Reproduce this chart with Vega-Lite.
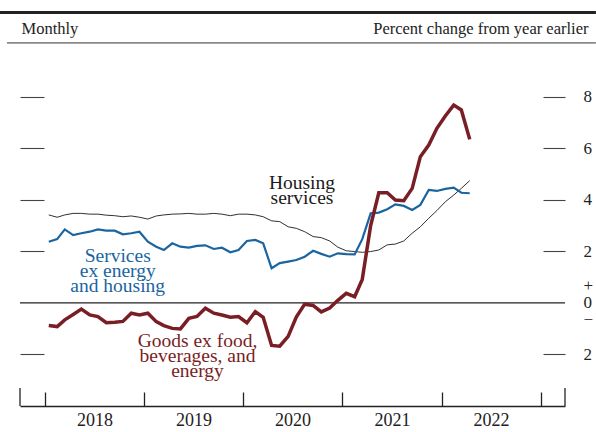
{
  "$schema": "https://vega.github.io/schema/vega-lite/v6.json",
  "width": 545,
  "height": 361,
  "autosize": "none",
  "padding": {"left": 20, "top": 45, "right": 31, "bottom": 26},
  "background": "white",
  "config": {
    "view": {"stroke": null},
    "font": "Liberation Serif",
    "axis": {"grid": false},
    "axisX": {"tickSize": -14, "tickColor": "#222222", "tickWidth": 1.3, "domain": true, "domainColor": "#222222", "domainWidth": 1.3, "labelOffset": 49.5, "labelFlush": false, "labelOverlap": false, "labelFont": "Liberation Serif", "labelFontSize": 18, "labelColor": "#222222", "labelPadding": 19}
  },
  "data": {"values": [{}]},
  "datasets": {
    "goods": [
      {"date": "2018-01-15", "value": -0.88}, {"date": "2018-02-15", "value": -0.92}, {"date": "2018-03-15", "value": -0.66}, {"date": "2018-04-15", "value": -0.45}, {"date": "2018-05-15", "value": -0.24}, {"date": "2018-06-15", "value": -0.47}, {"date": "2018-07-15", "value": -0.53}, {"date": "2018-08-15", "value": -0.77}, {"date": "2018-09-15", "value": -0.75}, {"date": "2018-10-15", "value": -0.72}, {"date": "2018-11-15", "value": -0.40}, {"date": "2018-12-15", "value": -0.47},
      {"date": "2019-01-15", "value": -0.40}, {"date": "2019-02-15", "value": -0.73}, {"date": "2019-03-15", "value": -0.88}, {"date": "2019-04-15", "value": -0.99}, {"date": "2019-05-15", "value": -1.01}, {"date": "2019-06-15", "value": -0.60}, {"date": "2019-07-15", "value": -0.53}, {"date": "2019-08-15", "value": -0.21}, {"date": "2019-09-15", "value": -0.40}, {"date": "2019-10-15", "value": -0.47}, {"date": "2019-11-15", "value": -0.56}, {"date": "2019-12-15", "value": -0.53},
      {"date": "2020-01-15", "value": -0.77}, {"date": "2020-02-15", "value": -0.34}, {"date": "2020-03-15", "value": -0.56}, {"date": "2020-04-15", "value": -1.65}, {"date": "2020-05-15", "value": -1.68}, {"date": "2020-06-15", "value": -1.30}, {"date": "2020-07-15", "value": -0.55}, {"date": "2020-08-15", "value": -0.05}, {"date": "2020-09-15", "value": -0.10}, {"date": "2020-10-15", "value": -0.35}, {"date": "2020-11-15", "value": -0.20}, {"date": "2020-12-15", "value": 0.10},
      {"date": "2021-01-15", "value": 0.37}, {"date": "2021-02-15", "value": 0.24}, {"date": "2021-03-15", "value": 0.91}, {"date": "2021-04-15", "value": 3.0}, {"date": "2021-05-15", "value": 4.27}, {"date": "2021-06-15", "value": 4.27}, {"date": "2021-07-15", "value": 3.99}, {"date": "2021-08-15", "value": 3.96}, {"date": "2021-09-15", "value": 4.44}, {"date": "2021-10-15", "value": 5.67}, {"date": "2021-11-15", "value": 6.12}, {"date": "2021-12-15", "value": 6.77},
      {"date": "2022-01-15", "value": 7.25}, {"date": "2022-02-15", "value": 7.67}, {"date": "2022-03-15", "value": 7.48}, {"date": "2022-04-15", "value": 6.34}
    ],
    "services": [
      {"date": "2018-01-15", "value": 2.37}, {"date": "2018-02-15", "value": 2.47}, {"date": "2018-03-15", "value": 2.85}, {"date": "2018-04-15", "value": 2.63}, {"date": "2018-05-15", "value": 2.70}, {"date": "2018-06-15", "value": 2.76}, {"date": "2018-07-15", "value": 2.85}, {"date": "2018-08-15", "value": 2.80}, {"date": "2018-09-15", "value": 2.80}, {"date": "2018-10-15", "value": 2.66}, {"date": "2018-11-15", "value": 2.70}, {"date": "2018-12-15", "value": 2.76},
      {"date": "2019-01-15", "value": 2.37}, {"date": "2019-02-15", "value": 2.18}, {"date": "2019-03-15", "value": 2.05}, {"date": "2019-04-15", "value": 2.31}, {"date": "2019-05-15", "value": 2.18}, {"date": "2019-06-15", "value": 2.14}, {"date": "2019-07-15", "value": 2.21}, {"date": "2019-08-15", "value": 2.23}, {"date": "2019-09-15", "value": 2.09}, {"date": "2019-10-15", "value": 2.14}, {"date": "2019-11-15", "value": 1.96}, {"date": "2019-12-15", "value": 2.05},
      {"date": "2020-01-15", "value": 2.40}, {"date": "2020-02-15", "value": 2.44}, {"date": "2020-03-15", "value": 2.31}, {"date": "2020-04-15", "value": 1.34}, {"date": "2020-05-15", "value": 1.54}, {"date": "2020-06-15", "value": 1.60}, {"date": "2020-07-15", "value": 1.66}, {"date": "2020-08-15", "value": 1.79}, {"date": "2020-09-15", "value": 2.02}, {"date": "2020-10-15", "value": 1.90}, {"date": "2020-11-15", "value": 1.79}, {"date": "2020-12-15", "value": 1.92},
      {"date": "2021-01-15", "value": 1.89}, {"date": "2021-02-15", "value": 1.88}, {"date": "2021-03-15", "value": 2.47}, {"date": "2021-04-15", "value": 3.47}, {"date": "2021-05-15", "value": 3.50}, {"date": "2021-06-15", "value": 3.63}, {"date": "2021-07-15", "value": 3.82}, {"date": "2021-08-15", "value": 3.76}, {"date": "2021-09-15", "value": 3.60}, {"date": "2021-10-15", "value": 3.80}, {"date": "2021-11-15", "value": 4.38}, {"date": "2021-12-15", "value": 4.34},
      {"date": "2022-01-15", "value": 4.42}, {"date": "2022-02-15", "value": 4.47}, {"date": "2022-03-15", "value": 4.27}, {"date": "2022-04-15", "value": 4.25}
    ],
    "housing": [
      {"date": "2018-01-15", "value": 3.41}, {"date": "2018-02-15", "value": 3.32}, {"date": "2018-03-15", "value": 3.41}, {"date": "2018-04-15", "value": 3.47}, {"date": "2018-05-15", "value": 3.47}, {"date": "2018-06-15", "value": 3.44}, {"date": "2018-07-15", "value": 3.44}, {"date": "2018-08-15", "value": 3.40}, {"date": "2018-09-15", "value": 3.38}, {"date": "2018-10-15", "value": 3.34}, {"date": "2018-11-15", "value": 3.37}, {"date": "2018-12-15", "value": 3.32},
      {"date": "2019-01-15", "value": 3.25}, {"date": "2019-02-15", "value": 3.37}, {"date": "2019-03-15", "value": 3.41}, {"date": "2019-04-15", "value": 3.44}, {"date": "2019-05-15", "value": 3.45}, {"date": "2019-06-15", "value": 3.47}, {"date": "2019-07-15", "value": 3.44}, {"date": "2019-08-15", "value": 3.44}, {"date": "2019-09-15", "value": 3.47}, {"date": "2019-10-15", "value": 3.44}, {"date": "2019-11-15", "value": 3.38}, {"date": "2019-12-15", "value": 3.44},
      {"date": "2020-01-15", "value": 3.44}, {"date": "2020-02-15", "value": 3.41}, {"date": "2020-03-15", "value": 3.34}, {"date": "2020-04-15", "value": 3.18}, {"date": "2020-05-15", "value": 3.15}, {"date": "2020-06-15", "value": 2.95}, {"date": "2020-07-15", "value": 2.89}, {"date": "2020-08-15", "value": 2.76}, {"date": "2020-09-15", "value": 2.57}, {"date": "2020-10-15", "value": 2.53}, {"date": "2020-11-15", "value": 2.40}, {"date": "2020-12-15", "value": 2.16},
      {"date": "2021-01-15", "value": 2.02}, {"date": "2021-02-15", "value": 1.99}, {"date": "2021-03-15", "value": 1.96}, {"date": "2021-04-15", "value": 1.99}, {"date": "2021-05-15", "value": 2.05}, {"date": "2021-06-15", "value": 2.25}, {"date": "2021-07-15", "value": 2.28}, {"date": "2021-08-15", "value": 2.40}, {"date": "2021-09-15", "value": 2.70}, {"date": "2021-10-15", "value": 2.95}, {"date": "2021-11-15", "value": 3.28}, {"date": "2021-12-15", "value": 3.58},
      {"date": "2022-01-15", "value": 3.92}, {"date": "2022-02-15", "value": 4.18}, {"date": "2022-03-15", "value": 4.44}, {"date": "2022-04-15", "value": 4.74}
    ]
  },
  "resolve": {"scale": {"y": "shared", "x": "shared"}, "axis": {"y": "independent", "x": "shared"}},
  "layer": [
    {
      "mark": {"type": "rule", "stroke": "#222222", "strokeWidth": 3},
      "encoding": {
        "x": {"datum": {"year": 2017, "month": 7, "date": 19, "utc": true}, "type": "temporal", "scale": {"type": "utc", "domain": [{"year": 2017, "month": 10, "date": 1, "utc": true}, {"year": 2023, "month": 4, "date": 1, "utc": true}]},
          "axis": {"values": [{"year": 2018, "month": 1, "date": 1, "utc": true}, {"year": 2019, "month": 1, "date": 1, "utc": true}, {"year": 2020, "month": 1, "date": 1, "utc": true}, {"year": 2021, "month": 1, "date": 1, "utc": true}, {"year": 2022, "month": 1, "date": 1, "utc": true}, {"year": 2023, "month": 1, "date": 1, "utc": true}], "labelExpr": "utcyear(datum.value) >= 2023 ? '' : utcFormat(datum.value, '%Y')", "title": ""}},
        "x2": {"datum": {"year": 2023, "month": 7, "date": 24, "utc": true}},
        "y": {"datum": 11.26, "type": "quantitative", "scale": {"domain": [-4, 10], "nice": false, "zero": false}, "axis": null}
      }
    },
    {
      "mark": {"type": "rule", "stroke": "#333333", "strokeWidth": 1},
      "encoding": {
        "x": {"datum": {"year": 2017, "month": 8, "date": 14, "utc": true}, "type": "temporal", "scale": {"type": "utc", "domain": [{"year": 2017, "month": 10, "date": 1, "utc": true}, {"year": 2023, "month": 4, "date": 1, "utc": true}]},
          "axis": {"values": [{"year": 2018, "month": 1, "date": 1, "utc": true}, {"year": 2019, "month": 1, "date": 1, "utc": true}, {"year": 2020, "month": 1, "date": 1, "utc": true}, {"year": 2021, "month": 1, "date": 1, "utc": true}, {"year": 2022, "month": 1, "date": 1, "utc": true}, {"year": 2023, "month": 1, "date": 1, "utc": true}], "labelExpr": "utcyear(datum.value) >= 2023 ? '' : utcFormat(datum.value, '%Y')", "title": ""}},
        "x2": {"datum": {"year": 2023, "month": 7, "date": 24, "utc": true}},
        "y": {"datum": 10.08, "type": "quantitative", "scale": {"domain": [-4, 10], "nice": false, "zero": false}, "axis": null}
      }
    },
    {
      "mark": {"type": "rule", "stroke": "#222222", "strokeWidth": 1.3},
      "encoding": {
        "x": {"datum": {"year": 2017, "month": 10, "date": 1, "utc": true}, "type": "temporal", "scale": {"type": "utc", "domain": [{"year": 2017, "month": 10, "date": 1, "utc": true}, {"year": 2023, "month": 4, "date": 1, "utc": true}]},
          "axis": {"values": [{"year": 2018, "month": 1, "date": 1, "utc": true}, {"year": 2019, "month": 1, "date": 1, "utc": true}, {"year": 2020, "month": 1, "date": 1, "utc": true}, {"year": 2021, "month": 1, "date": 1, "utc": true}, {"year": 2022, "month": 1, "date": 1, "utc": true}, {"year": 2023, "month": 1, "date": 1, "utc": true}], "labelExpr": "utcyear(datum.value) >= 2023 ? '' : utcFormat(datum.value, '%Y')", "title": ""}},
        "y": {"datum": -4, "type": "quantitative", "scale": {"domain": [-4, 10], "nice": false, "zero": false}, "axis": null},
        "y2": {"datum": -3.3}
      }
    },
    {
      "mark": {"type": "rule", "stroke": "#222222", "strokeWidth": 1.3},
      "encoding": {
        "x": {"datum": {"year": 2023, "month": 4, "date": 1, "utc": true}, "type": "temporal", "scale": {"type": "utc", "domain": [{"year": 2017, "month": 10, "date": 1, "utc": true}, {"year": 2023, "month": 4, "date": 1, "utc": true}]},
          "axis": {"values": [{"year": 2018, "month": 1, "date": 1, "utc": true}, {"year": 2019, "month": 1, "date": 1, "utc": true}, {"year": 2020, "month": 1, "date": 1, "utc": true}, {"year": 2021, "month": 1, "date": 1, "utc": true}, {"year": 2022, "month": 1, "date": 1, "utc": true}, {"year": 2023, "month": 1, "date": 1, "utc": true}], "labelExpr": "utcyear(datum.value) >= 2023 ? '' : utcFormat(datum.value, '%Y')", "title": ""}},
        "y": {"datum": -4, "type": "quantitative", "scale": {"domain": [-4, 10], "nice": false, "zero": false}, "axis": null},
        "y2": {"datum": -3.3}
      }
    },
    {
      "mark": {"type": "rule", "stroke": "#222222", "strokeWidth": 1.3},
      "encoding": {
        "y": {"datum": 0, "type": "quantitative", "scale": {"domain": [-4, 10], "nice": false, "zero": false},
          "axis": {"orient": "right", "values": [-2, 0.66, 2, 4, 6, 8], "tickSize": -22, "tickColor": "#444444", "tickWidth": 1.1,
            "tickOpacity": {"condition": {"test": "datum.value > 0.5 && datum.value < 1", "value": 0}, "value": 1}, "domain": false,
            "labelExpr": "datum.value > 0.5 && datum.value < 1 ? ['+', '0', '−'] : '' + abs(datum.value)", "labelLineHeight": 17, "labelFont": "Liberation Serif", "labelFontSize": 17, "labelColor": "#222222", "labelPadding": 40, "labelAlign": "left", "labelBaseline": "middle",
            "title": "Percent change from year earlier", "titleAngle": 0, "titleAlign": "right", "titleX": 23, "titleY": -12, "titleBaseline": "alphabetic", "titleFont": "Liberation Serif", "titleFontSize": 16.5, "titleFontWeight": "normal", "titleColor": "#222222"}}
      }
    },
    {
      "data": {"name": "housing"},
      "mark": {"type": "line", "stroke": "#1a1a1a", "strokeWidth": 0.9},
      "encoding": {
        "x": {"field": "date", "type": "temporal", "scale": {"type": "utc", "domain": [{"year": 2017, "month": 10, "date": 1, "utc": true}, {"year": 2023, "month": 4, "date": 1, "utc": true}]},
          "axis": {"values": [{"year": 2018, "month": 1, "date": 1, "utc": true}, {"year": 2019, "month": 1, "date": 1, "utc": true}, {"year": 2020, "month": 1, "date": 1, "utc": true}, {"year": 2021, "month": 1, "date": 1, "utc": true}, {"year": 2022, "month": 1, "date": 1, "utc": true}, {"year": 2023, "month": 1, "date": 1, "utc": true}], "labelExpr": "utcyear(datum.value) >= 2023 ? '' : utcFormat(datum.value, '%Y')", "title": ""}},
        "y": {"field": "value", "type": "quantitative", "scale": {"domain": [-4, 10], "nice": false, "zero": false},
          "axis": {"orient": "left", "values": [-2, 2, 4, 6, 8], "tickSize": -24, "tickColor": "#444444", "tickWidth": 1.1, "domain": false, "labels": false,
            "title": "Monthly", "titleAngle": 0, "titleAlign": "left", "titleX": 1, "titleY": -12, "titleBaseline": "alphabetic", "titleFont": "Liberation Serif", "titleFontSize": 16.5, "titleFontWeight": "normal", "titleColor": "#222222"}}
      }
    },
    {
      "data": {"name": "services"},
      "mark": {"type": "line", "stroke": "#1a65a0", "strokeWidth": 2.2},
      "encoding": {
        "x": {"field": "date", "type": "temporal", "scale": {"type": "utc", "domain": [{"year": 2017, "month": 10, "date": 1, "utc": true}, {"year": 2023, "month": 4, "date": 1, "utc": true}]},
          "axis": {"values": [{"year": 2018, "month": 1, "date": 1, "utc": true}, {"year": 2019, "month": 1, "date": 1, "utc": true}, {"year": 2020, "month": 1, "date": 1, "utc": true}, {"year": 2021, "month": 1, "date": 1, "utc": true}, {"year": 2022, "month": 1, "date": 1, "utc": true}, {"year": 2023, "month": 1, "date": 1, "utc": true}], "labelExpr": "utcyear(datum.value) >= 2023 ? '' : utcFormat(datum.value, '%Y')", "title": ""}},
        "y": {"field": "value", "type": "quantitative", "scale": {"domain": [-4, 10], "nice": false, "zero": false}, "axis": null}
      }
    },
    {
      "data": {"name": "goods"},
      "mark": {"type": "line", "stroke": "#7a1e26", "strokeWidth": 3.5},
      "encoding": {
        "x": {"field": "date", "type": "temporal", "scale": {"type": "utc", "domain": [{"year": 2017, "month": 10, "date": 1, "utc": true}, {"year": 2023, "month": 4, "date": 1, "utc": true}]},
          "axis": {"values": [{"year": 2018, "month": 1, "date": 1, "utc": true}, {"year": 2019, "month": 1, "date": 1, "utc": true}, {"year": 2020, "month": 1, "date": 1, "utc": true}, {"year": 2021, "month": 1, "date": 1, "utc": true}, {"year": 2022, "month": 1, "date": 1, "utc": true}, {"year": 2023, "month": 1, "date": 1, "utc": true}], "labelExpr": "utcyear(datum.value) >= 2023 ? '' : utcFormat(datum.value, '%Y')", "title": ""}},
        "y": {"field": "value", "type": "quantitative", "scale": {"domain": [-4, 10], "nice": false, "zero": false}, "axis": null}
      }
    },
    {
      "mark": {"type": "text", "text": ["Housing", "services"], "font": "Liberation Serif", "fontSize": 19.5, "lineHeight": 15, "align": "center", "baseline": "alphabetic", "color": "#1a1a1a"},
      "encoding": {
        "x": {"datum": {"year": 2020, "month": 8, "date": 5, "utc": true}, "type": "temporal", "scale": {"type": "utc", "domain": [{"year": 2017, "month": 10, "date": 1, "utc": true}, {"year": 2023, "month": 4, "date": 1, "utc": true}]},
          "axis": {"values": [{"year": 2018, "month": 1, "date": 1, "utc": true}, {"year": 2019, "month": 1, "date": 1, "utc": true}, {"year": 2020, "month": 1, "date": 1, "utc": true}, {"year": 2021, "month": 1, "date": 1, "utc": true}, {"year": 2022, "month": 1, "date": 1, "utc": true}, {"year": 2023, "month": 1, "date": 1, "utc": true}], "labelExpr": "utcyear(datum.value) >= 2023 ? '' : utcFormat(datum.value, '%Y')", "title": ""}},
        "y": {"datum": 4.40, "type": "quantitative", "scale": {"domain": [-4, 10], "nice": false, "zero": false}, "axis": null}
      }
    },
    {
      "mark": {"type": "text", "text": ["Services", "ex energy", "and housing"], "font": "Liberation Serif", "fontSize": 19.5, "lineHeight": 15, "align": "center", "baseline": "alphabetic", "color": "#1a65a0"},
      "encoding": {
        "x": {"datum": {"year": 2018, "month": 9, "date": 26, "utc": true}, "type": "temporal", "scale": {"type": "utc", "domain": [{"year": 2017, "month": 10, "date": 1, "utc": true}, {"year": 2023, "month": 4, "date": 1, "utc": true}]},
          "axis": {"values": [{"year": 2018, "month": 1, "date": 1, "utc": true}, {"year": 2019, "month": 1, "date": 1, "utc": true}, {"year": 2020, "month": 1, "date": 1, "utc": true}, {"year": 2021, "month": 1, "date": 1, "utc": true}, {"year": 2022, "month": 1, "date": 1, "utc": true}, {"year": 2023, "month": 1, "date": 1, "utc": true}], "labelExpr": "utcyear(datum.value) >= 2023 ? '' : utcFormat(datum.value, '%Y')", "title": ""}},
        "y": {"datum": 1.60, "type": "quantitative", "scale": {"domain": [-4, 10], "nice": false, "zero": false}, "axis": null}
      }
    },
    {
      "mark": {"type": "text", "text": ["Goods ex food,", "beverages, and", "energy"], "font": "Liberation Serif", "fontSize": 19.5, "lineHeight": 15, "align": "center", "baseline": "alphabetic", "color": "#7a1e26"},
      "encoding": {
        "x": {"datum": {"year": 2019, "month": 7, "date": 17, "utc": true}, "type": "temporal", "scale": {"type": "utc", "domain": [{"year": 2017, "month": 10, "date": 1, "utc": true}, {"year": 2023, "month": 4, "date": 1, "utc": true}]},
          "axis": {"values": [{"year": 2018, "month": 1, "date": 1, "utc": true}, {"year": 2019, "month": 1, "date": 1, "utc": true}, {"year": 2020, "month": 1, "date": 1, "utc": true}, {"year": 2021, "month": 1, "date": 1, "utc": true}, {"year": 2022, "month": 1, "date": 1, "utc": true}, {"year": 2023, "month": 1, "date": 1, "utc": true}], "labelExpr": "utcyear(datum.value) >= 2023 ? '' : utcFormat(datum.value, '%Y')", "title": ""}},
        "y": {"datum": -1.70, "type": "quantitative", "scale": {"domain": [-4, 10], "nice": false, "zero": false}, "axis": null}
      }
    }
  ]
}
